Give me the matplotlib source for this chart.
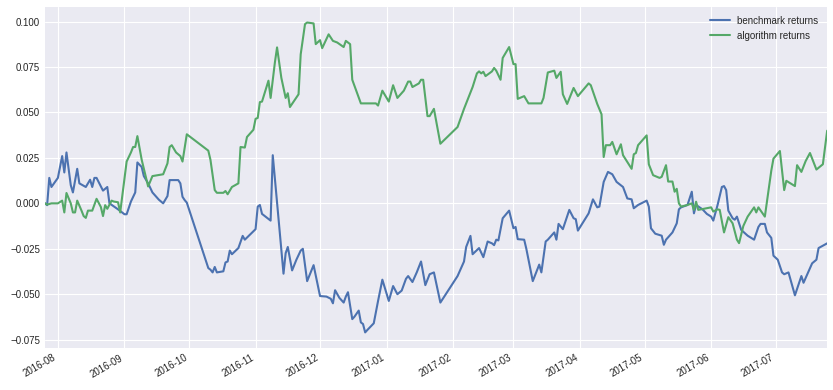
#!/usr/bin/env python3
# -*- coding: utf-8 -*-

"""
benchmark / algorithm の累積リターン比較プロット
"""

import pandas as pd
import matplotlib
matplotlib.use('Agg')
import matplotlib.pyplot as plt

# 日付は 2016-08-01 からの経過日数
start = pd.Timestamp('2016-08-01')

bench_day = [
    -6, -5, -4, -3, 0, 2, 3, 4, 6, 7, 9, 10, 13, 15, 16, 17, 18, 21, 23, 24,
    28, 31, 32, 34, 36, 37, 39, 40, 42, 44, 47, 49, 51, 52, 56, 57, 58, 59, 60,
    70, 71, 72, 73, 74, 77, 78, 79, 80, 81, 84, 86, 87, 92, 93, 94, 95, 99, 100,
    105, 106, 107, 109, 111, 113, 114, 116, 119, 122, 125, 127, 128, 129, 131,
    133, 134, 135, 137, 138, 140, 141, 142, 143, 144, 147, 149, 151, 154, 156,
    158, 160, 162, 163, 165, 167, 169, 171, 173, 175, 178,
    186, 189, 190, 192, 193, 196, 198, 200, 202, 203, 204, 205, 207, 210, 212,
    213, 214, 217, 218, 221, 224, 225, 227, 228, 231, 232, 233, 235, 238, 240,
    241, 242, 247, 249, 251, 252, 254, 256, 258, 260, 263, 265, 267, 268, 270,
    274, 275, 276, 278, 281, 282, 283, 286, 288, 289, 290, 293, 295, 296, 297,
    300, 302, 304, 305, 307, 309, 310, 311, 312, 314, 315, 316, 318, 320, 321,
    324, 326, 327, 329, 330, 332, 333, 335, 337, 338, 340, 343, 346, 347, 351,
    353, 354, 356, 358,
]
bench_ret = [
    0.000, -0.001, 0.014, 0.009, 0.014, 0.026, 0.017, 0.028, 0.010, 0.006,
    0.019, 0.011, 0.009, 0.013, 0.009, 0.014, 0.014, 0.007, 0.009, 0.000,
    -0.0033, -0.006, -0.006, 0.001, 0.006, 0.0225, 0.020, 0.015, 0.011, 0.006,
    0.002, 0.000, 0.004, 0.0128, 0.0128, 0.011, 0.0036, 0.0018, 0.0004,
    -0.0356, -0.0365, -0.038, -0.035, -0.038, -0.0374, -0.0325, -0.032, -0.026,
    -0.028, -0.0246, -0.0179, -0.020, -0.0142, -0.0018, -0.0009, -0.0058,
    -0.0095, 0.0265,
    -0.0387, -0.0274, -0.024, -0.0369, -0.031, -0.026, -0.025, -0.0428, -0.034,
    -0.051, -0.0513, -0.0525, -0.055, -0.0478, -0.052,
    -0.0546, -0.0513, -0.0489, -0.0637, -0.0624, -0.059, -0.0655, -0.0664,
    -0.071, -0.0697, -0.066, -0.0537, -0.042, -0.0537, -0.0455,
    -0.050, -0.048, -0.0415, -0.040, -0.0433, -0.038, -0.032, -0.045, -0.039,
    -0.038, -0.0546,
    -0.040, -0.032, -0.024, -0.0179, -0.028, -0.0246, -0.0296, -0.021, -0.022,
    -0.023, -0.020, -0.0204, -0.0082, -0.004, -0.0137,
    -0.013, -0.0197, -0.020, -0.025, -0.0428, -0.0337, -0.038, -0.021, -0.020,
    -0.016, -0.020, -0.0113, -0.0142, -0.0036, -0.0082,
    -0.0087, -0.015, -0.0055, 0.0022, -0.0022, -0.0018, 0.0118, 0.0173, 0.016,
    0.0118, 0.009, 0.0027, 0.0022, -0.0027, -0.0009,
    0.0015, -0.0018, -0.0137, -0.0167, -0.0178, -0.0228, -0.020, -0.016, -0.011,
    -0.0033, -0.0022, -0.0009, 0.0064, -0.0055, -0.0009,
    -0.0033, -0.0058, -0.0073, -0.0095, -0.0009, 0.009, 0.0095, 0.0073, -0.004,
    -0.0082, -0.009, -0.0073, -0.0146, -0.0167, -0.0178,
    -0.020, -0.013, -0.0113, -0.0113, -0.016, -0.019, -0.0288, -0.031, -0.038,
    -0.039, -0.038, -0.0506, -0.040, -0.0437, -0.033,
    -0.031, -0.0246, -0.0233, -0.022,
]

algo_day = [
    -6, -5, -3, 0, 2, 3, 4, 6, 7, 8, 9, 11, 12, 13, 14, 16, 18, 20, 21, 22, 23,
    25, 26, 28, 29, 32, 34, 35, 36, 37, 39, 42, 44, 49, 51, 52, 53, 55, 57, 58,
    60, 70, 71, 73, 74, 77, 78, 79, 81, 84, 85, 87, 88, 91, 92, 93, 94, 95, 98,
    99, 101, 102, 104, 106, 107, 108, 112, 113, 115, 116, 119, 120, 122, 123,
    126, 128, 130, 133, 134, 136, 137, 141, 148, 149, 151, 154, 156, 158, 161,
    163, 164, 165, 168, 169, 170, 172, 173, 175, 178,
    186, 189, 191, 193, 195, 196, 197, 198, 199, 202, 203, 204, 206, 207, 210,
    212, 213, 214, 217, 219, 225, 226, 228, 231, 232, 234, 235, 237, 240, 242,
    247, 248, 251, 253, 254, 255, 257, 258, 260, 262, 263, 267, 268, 269, 270,
    274, 275, 277, 280, 281, 283, 284, 286, 287, 288, 289, 290, 293, 295, 296,
    297, 298, 304, 305, 307, 308, 310, 312, 314, 316, 317, 319, 321, 324, 325,
    326, 329, 332, 333, 336, 338, 339, 343, 344, 346, 348, 350, 353, 356, 358,
]
algo_ret = [
    0.000, -0.0007, 0.000, 0.000, 0.0015, -0.005, 0.0057, 0.000, -0.005, -0.005,
    0.0015, -0.004, -0.007, -0.008, -0.004, -0.004, 0.0025, -0.002, -0.007,
    -0.001, -0.003, 0.0015, 0.001, 0.0006, -0.005, 0.023, 0.028, 0.031, 0.031,
    0.037, 0.024, 0.0093, 0.015, 0.016, 0.022, 0.031, 0.032, 0.028, 0.026,
    0.023, 0.038, 0.029, 0.024, 0.0073, 0.0058, 0.0058, 0.0068, 0.005, 0.009,
    0.011, 0.031, 0.0307, 0.0365, 0.0405, 0.0465, 0.047, 0.0557, 0.056, 0.0675,
    0.058, 0.0776, 0.0858, 0.069, 0.058, 0.0606, 0.053, 0.060, 0.082, 0.0986,
    0.0995, 0.099, 0.0876, 0.0898, 0.0854,
    0.093, 0.0894, 0.0885, 0.086, 0.0894, 0.0876, 0.068, 0.055, 0.055, 0.0538,
    0.062, 0.056, 0.065, 0.058, 0.062,
    0.067, 0.067, 0.064, 0.066, 0.068, 0.068, 0.048, 0.048, 0.052, 0.0328,
    0.042, 0.052, 0.058, 0.064, 0.0715, 0.0726, 0.0715, 0.0724, 0.070, 0.0726,
    0.0745, 0.073, 0.068, 0.080, 0.086,
    0.0766, 0.0766, 0.0575, 0.059, 0.055, 0.055, 0.058, 0.072, 0.073, 0.069,
    0.0724, 0.060, 0.0547, 0.0635, 0.059,
    0.066, 0.065, 0.0547, 0.049, 0.0255, 0.032, 0.032, 0.0338, 0.027, 0.0325,
    0.0265, 0.019, 0.027, 0.0277, 0.032,
    0.0374, 0.0215, 0.0155, 0.014, 0.0146, 0.021, 0.012, 0.012, 0.0064, 0.008,
    0.000, -0.0018, -0.0009, 0.000, -0.0036,
    0.0009, -0.0036, -0.0022, -0.0045, -0.0033, -0.0036, -0.016, -0.0076,
    -0.011, -0.020, -0.0219, -0.0124, -0.0073, -0.0022, -0.005,
    -0.0022, -0.0073, 0.018, 0.0246, 0.0288, 0.0073, 0.0124, 0.0095, 0.021,
    0.0173, 0.0233, 0.0277, 0.0186, 0.0215, 0.040,
]


def main():
    bench_dates = start + pd.to_timedelta(bench_day, unit='D')
    algo_dates = start + pd.to_timedelta(algo_day, unit='D')

    plt.style.use('seaborn-v0_8-darkgrid')
    plt.rcParams['font.family'] = ['Liberation Sans', 'DejaVu Sans']
    plt.rcParams['font.size'] = 7

    fig = plt.figure(figsize=(8.33, 3.9), dpi=100)
    ax = fig.add_axes([0.054, 0.108, 0.939, 0.874])

    ax.plot(bench_dates, bench_ret, color='#4C72B0', linewidth=1.5,
            label='benchmark returns')
    ax.plot(algo_dates, algo_ret, color='#55A868', linewidth=1.5,
            label='algorithm returns')

    ax.set_xlim(bench_dates[0], bench_dates[-1])
    ax.tick_params(labelsize=7, colors='#262626')
    ax.legend(loc='upper right', fontsize=7, frameon=False)

    for lbl in ax.get_xticklabels():
        lbl.set_rotation(30)
        lbl.set_ha('right')

    fig.savefig('out.png', dpi=100)
    plt.close(fig)


if __name__ == "__main__":
    main()
